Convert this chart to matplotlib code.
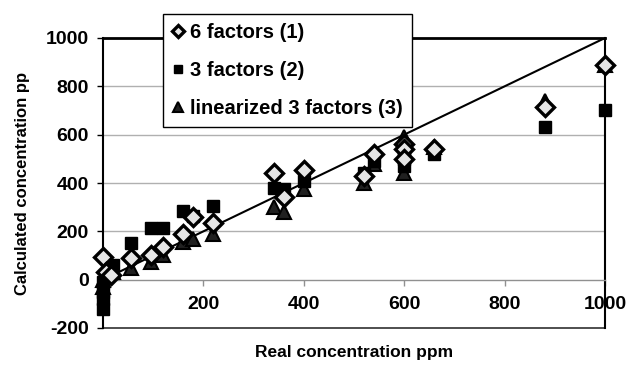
import matplotlib
matplotlib.use("Agg")
import matplotlib.pyplot as plt

plt.rcParams['font.family'] = ['Liberation Sans', 'DejaVu Sans']
plt.rcParams['font.weight'] = 'bold'
plt.rcParams['axes.unicode_minus'] = False

# Series 1: 6 factors (diamonds)
x6 = [0, 5, 15, 55, 95, 120, 160, 180, 220, 340, 360, 400, 520, 540, 600, 600, 600, 660, 880, 1000]
y6 = [95, 30, 20, 90, 100, 135, 190, 260, 235, 440, 340, 455, 430, 520, 560, 540, 500, 540, 715, 890]

# Series 2: 3 factors (squares)
x3 = [0, 0, 0, 0, 10, 20, 55, 95, 120, 160, 180, 220, 340, 360, 400, 520, 540, 600, 600, 600, 660, 880, 1000]
y3 = [-120, -80, -50, -10, 30, 60, 150, 212, 212, 285, 265, 305, 380, 375, 410, 440, 490, 540, 500, 470, 520, 630, 700]

# Series 3: linearized 3 factors (triangles)
xl = [0, 0, 5, 20, 55, 95, 120, 160, 180, 220, 340, 360, 400, 520, 540, 600, 600, 660, 880, 1000]
yl = [-30, 0, 20, 30, 50, 75, 100, 155, 170, 190, 300, 280, 375, 400, 480, 440, 590, 550, 740, 890]

labels = ["6 factors (1)", "3 factors (2)", "linearized 3 factors (3)"]
xticks = [0, 200, 400, 600, 800, 1000]
xticklabels = ["", "200", "400", "600", "800", "1000"]
yticks = [-200, 0, 200, 400, 600, 800, 1000]

fig = plt.figure(figsize=(6.26, 3.65), dpi=100)
ax = fig.add_axes([103/626, 1-328/365, (605-103)/626, (328-38)/365])

ax.set_xlim(0, 1000)
ax.set_ylim(-200, 1000)

# gridlines
for g in [200, 400, 600, 800]:
    ax.axhline(g, color='#b0b0b0', lw=1.0, zorder=0)

# identity line
ax.plot([0, 1000], [0, 1000], color='black', lw=1.5, zorder=2)

h1, = ax.plot(x6, y6, linestyle='none', marker='D', ms=9, mfc='#e6e6e6', mec='black', mew=2.4, zorder=5, label=labels[0], clip_on=False)
h2, = ax.plot(x3, y3, linestyle='none', marker='s', ms=9, mfc='black', mec='black', mew=1, zorder=4, label=labels[1], clip_on=False)
h3, = ax.plot(xl, yl, linestyle='none', marker='^', ms=10, mfc='#202020', mec='black', mew=1.5, zorder=3, label=labels[2], clip_on=False)

# axes styling: x axis at y=0
ax.spines['bottom'].set_position(('data', 0))
ax.spines['bottom'].set_color('#909090')
ax.spines['bottom'].set_linewidth(1.0)
ax.spines['left'].set_linewidth(1.5)
ax.spines['right'].set_linewidth(1.5)
ax.spines['top'].set_linewidth(2.0)
# bottom frame border at -200
ax.plot([0, 1], [0, 0], transform=ax.transAxes, color='#303030', lw=1.2, clip_on=False, zorder=1)

ax.set_xticks(xticks)
ax.set_xticklabels(xticklabels)
ax.set_yticks(yticks)
ax.tick_params(axis='x', direction='out', length=4, width=1, color='#909090', pad=8, labelsize=14)
ax.tick_params(axis='y', direction='out', length=4, width=1, pad=6, labelsize=14)
for t in ax.get_xticklabels() + ax.get_yticklabels():
    t.set_fontweight('bold')

ax.set_ylabel("Calculated concentration pp", fontsize=12, fontweight='bold')
ax.yaxis.set_label_coords(-0.161, 0.5)
ax.yaxis.label.set_va('center')
ax.set_xlabel("Real concentration ppm", fontsize=12.5, fontweight='bold')
ax.xaxis.set_label_coords(0.5, -0.083)
ax.xaxis.label.set_va('center')

leg = fig.legend(handles=[h1, h2, h3], loc='upper left',
                 bbox_to_anchor=(163/626, 1-14/365), bbox_transform=fig.transFigure,
                 frameon=True, fancybox=False, edgecolor='black', framealpha=1,
                 prop={'weight': 'bold', 'size': 14.5}, labelspacing=0.95,
                 handlelength=0.6, handletextpad=0.3, borderpad=0.45, borderaxespad=0,
                 markerscale=0.7)
leg.get_frame().set_linewidth(1.0)
leg.set_zorder(10)

fig.savefig("out.png", dpi=100)
